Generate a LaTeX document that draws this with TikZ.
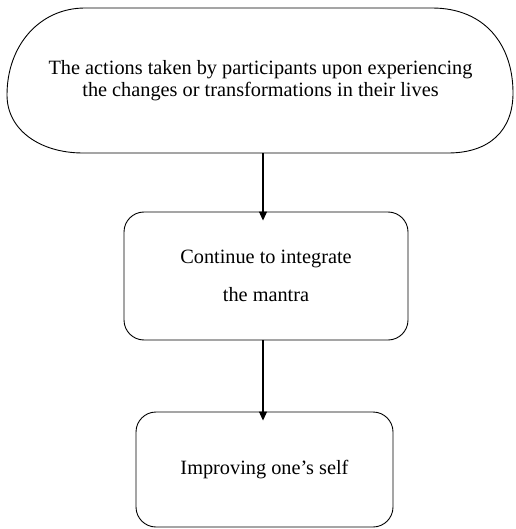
\documentclass[tikz,border=0pt]{standalone}
\usepackage{fontspec}
\setmainfont{Liberation Serif}
\usetikzlibrary{arrows.meta}
\begin{document}
\begin{tikzpicture}[x=1pt,y=-1pt,
  outline/.style={line width=0.9pt},
  rbox/.style={draw,line width=0.9pt,rounded corners=20pt,align=center,font=\fontsize{20.3}{22}\selectfont},
  flow/.style={line width=1.1pt,-{Triangle[width=8pt,length=9pt]}}]
\useasboundingbox (0,0) rectangle (515,529);
% top terminal shape
\draw[outline] (85,8) -- (432,8)
  .. controls (485,8) and (513,45) .. (513,93)
  .. controls (513,130) and (490,153) .. (448,153)
  -- (83,153)
  .. controls (40,153) and (7,130) .. (7,95)
  .. controls (7,45) and (40,8) .. (85,8) -- cycle;
\node[align=center,font=\fontsize{20.3}{22}\selectfont,minimum width=506pt,minimum height=145pt,inner sep=0pt] (top) at (260.5,80.5)
  {The actions taken by participants upon experiencing\\the changes or transformations in their lives};
\node[rbox,minimum width=284pt,minimum height=128pt] (mid) at (266,276)
  {Continue to integrate\\[16pt]the mantra};
\node[rbox,minimum width=257pt,minimum height=115pt] (low) at (264.5,469.5)
  {Improving one’s self};
\draw[flow] (top.south -| 263,0) -- ([yshift=-9pt]mid.north -| 263,0);
\draw[flow] (mid.south -| 263,0) -- ([yshift=-9pt]low.north -| 263,0);
\end{tikzpicture}
\end{document}
